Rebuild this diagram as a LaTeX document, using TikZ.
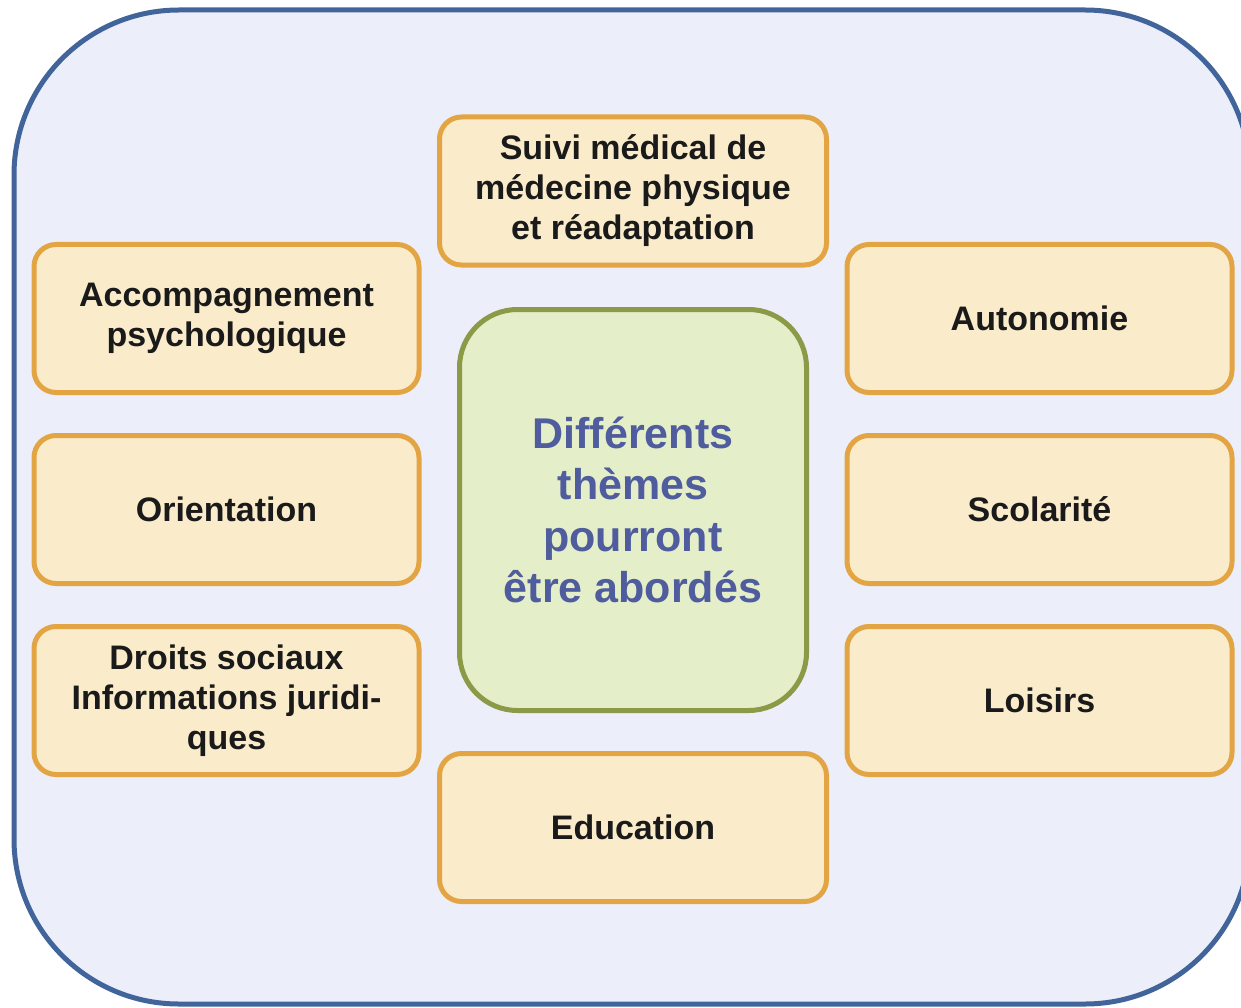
\documentclass[tikz,border=0pt]{standalone}
\usepackage{fontspec}
\setmainfont{Liberation Sans}
\definecolor{outerline}{HTML}{41659A}
\definecolor{outerfill}{HTML}{ECEEF9}
\definecolor{orline}{HTML}{E3A544}
\definecolor{orfill}{HTML}{FAECCB}
\definecolor{grline}{HTML}{8A9A47}
\definecolor{grfill}{HTML}{E4EEC8}
\definecolor{centertext}{HTML}{4F5C9D}
\definecolor{boxtext}{HTML}{1A1A1A}
\begin{document}
\begin{tikzpicture}[x=1pt,y=-1pt,
  themebox/.style={draw=orline,fill=orfill,line width=5pt,rounded corners=22pt,
    minimum width=385pt,minimum height=148pt,inner sep=0pt,align=center,
    text=boxtext,font=\fontsize{34}{40}\selectfont\bfseries},
  centerbox/.style={draw=grline,fill=grfill,line width=5pt,rounded corners=58pt,
    minimum width=347pt,minimum height=401pt,inner sep=0pt,align=center,
    text=centertext,font=\fontsize{43}{51.5}\selectfont\bfseries}]
\useasboundingbox (0,0) rectangle (1241,1008);
\draw[draw=outerline,fill=outerfill,line width=5pt,rounded corners=165pt]
  (14,10) rectangle (1250,1004);
\node[centerbox] (center) at (633,510) {Différents\\thèmes\\pourront\\être abordés};
\node[themebox,minimum width=387pt] (suivi) at (633,191) {Suivi médical de\\médecine physique\\et réadaptation};
\node[themebox] (accomp) at (226.5,318.5) {Accompagnement\\psychologique};
\node[themebox] (orient) at (226.5,509.5) {Orientation};
\node[themebox] (droits) at (226.5,700.5) {Droits sociaux\\Informations juridi-\\ques};
\node[themebox] (auto) at (1039.5,318.5) {Autonomie};
\node[themebox] (scol) at (1039.5,509.5) {Scolarité};
\node[themebox] (loisirs) at (1039.5,700.5) {Loisirs};
\node[themebox,minimum width=387pt] (educ) at (633,827.5) {Education};
\end{tikzpicture}
\end{document}
